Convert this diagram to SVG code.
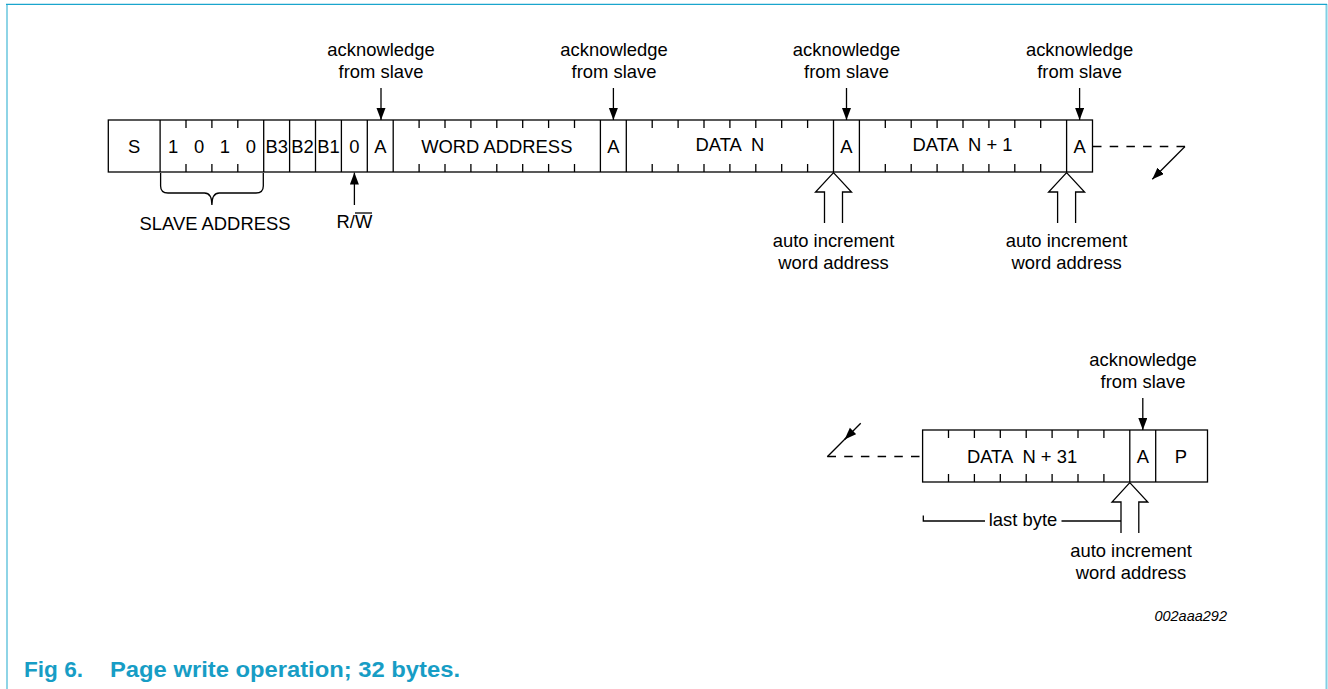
<svg xmlns="http://www.w3.org/2000/svg" width="1328" height="689" viewBox="0 0 1328 689">
<style>
text{font-family:"Liberation Sans",Arial,Helvetica,sans-serif;font-size:18.4px;fill:#000}
.c{text-anchor:middle}
.box{fill:#fff;stroke:#000;stroke-width:1.3}
.ln{fill:none;stroke:#000;stroke-width:1.3}
.dash{fill:none;stroke:#000;stroke-width:1.3;stroke-dasharray:8.5 8.2}
.hollow{fill:#fff;stroke:#000;stroke-width:1.3;stroke-linejoin:miter}
.cap{font-weight:bold;font-size:22.5px;fill:#179dc5}
.code{font-style:italic;font-size:14.5px;text-anchor:end}
</style>
<defs>
<marker id="ah" markerUnits="userSpaceOnUse" markerWidth="13" markerHeight="10" refX="12" refY="4.5" orient="auto">
<path d="M0,0 L12,4.5 L0,9 Z" fill="#000"/>
</marker>
</defs>

<g id="frame">
<line x1="7" y1="4" x2="7" y2="689" stroke="#82d0e4" stroke-width="1.8"/>
<line x1="1326.5" y1="4" x2="1326.5" y2="689" stroke="#82d0e4" stroke-width="2"/>
<line x1="6" y1="4.4" x2="1327" y2="4.4" stroke="#1aa5cd" stroke-width="1.4"/>
</g>

<g id="row1">
<rect class="box" x="108.3" y="120" width="984.2" height="52"/>
<g id="dividers1" class="ln">
<path d="M160.1,120V172 M263.7,120V172 M289.6,120V172 M315.5,120V172 M341.4,120V172 M367.3,120V172 M393.2,120V172 M600.4,120V172 M626.3,120V172 M833.5,120V172 M859.4,120V172 M1066.6,120V172"/>
</g>
<g id="ticks1" class="ln">
<path d="M186,120v8 M211.9,120v8 M237.8,120v8 M186,172v-8 M211.9,172v-8 M237.8,172v-8"/>
<path d="M419.1,120v8 M445,120v8 M470.9,120v8 M496.8,120v8 M522.7,120v8 M548.6,120v8 M574.5,120v8 M419.1,172v-8 M445,172v-8 M470.9,172v-8 M496.8,172v-8 M522.7,172v-8 M548.6,172v-8 M574.5,172v-8"/>
<path d="M652.2,120v8 M678.1,120v8 M704,120v8 M729.9,120v8 M755.8,120v8 M781.7,120v8 M807.6,120v8 M652.2,172v-8 M678.1,172v-8 M704,172v-8 M729.9,172v-8 M755.8,172v-8 M781.7,172v-8 M807.6,172v-8"/>
<path d="M885.3,120v8 M911.2,120v8 M937.1,120v8 M963,120v8 M988.9,120v8 M1014.8,120v8 M1040.7,120v8 M885.3,172v-8 M911.2,172v-8 M937.1,172v-8 M963,172v-8 M988.9,172v-8 M1014.8,172v-8 M1040.7,172v-8"/>
</g>
</g>

<g id="cell-S"><text class="c" x="134.2" y="152.5">S</text></g>
<g id="cell-1010">
<text class="c" x="173" y="152.5">1</text>
<text class="c" x="199" y="152.5">0</text>
<text class="c" x="224.9" y="152.5">1</text>
<text class="c" x="250.8" y="152.5">0</text>
</g>
<g id="cell-B3"><text class="c" x="276.7" y="152.5">B3</text></g>
<g id="cell-B2"><text class="c" x="302.6" y="152.5">B2</text></g>
<g id="cell-B1"><text class="c" x="328.5" y="152.5">B1</text></g>
<g id="cell-RW"><text class="c" x="354.4" y="152.5">0</text></g>
<g id="cell-A1"><text class="c" x="380.3" y="152.5">A</text></g>
<g id="cell-word"><text class="c" x="496.8" y="152.5">WORD ADDRESS</text></g>
<g id="cell-A2"><text class="c" x="613.4" y="152.5">A</text></g>
<g id="cell-dataN"><text class="c" x="729.9" y="150.7" xml:space="preserve">DATA  N</text></g>
<g id="cell-A3"><text class="c" x="846.5" y="152.5">A</text></g>
<g id="cell-dataN1"><text class="c" x="962.5" y="150.7" xml:space="preserve">DATA  N + 1</text></g>
<g id="cell-A4"><text class="c" x="1079.6" y="152.5">A</text></g>

<g id="slave-address">
<path class="ln" d="M160.6,173 V186 Q160.6,193 168,193 H204.5 Q211.9,193 211.9,205 Q211.9,193 219.3,193 H256 Q263.3,193 263.3,186 V173"/>
<text class="c" x="215" y="230">SLAVE ADDRESS</text>
</g>

<g id="rw-label">
<text class="c" x="354.4" y="228">R/W</text>
<line class="ln" x1="355" y1="213" x2="372" y2="213" stroke-width="1.2"/>
</g>

<g id="ack1"><text class="c" x="381" y="55.5">acknowledge</text><text class="c" x="381" y="77.5">from slave</text></g>
<g id="ack2"><text class="c" x="614" y="55.5">acknowledge</text><text class="c" x="614" y="77.5">from slave</text></g>
<g id="ack3"><text class="c" x="846.5" y="55.5">acknowledge</text><text class="c" x="846.5" y="77.5">from slave</text></g>
<g id="ack4"><text class="c" x="1079.6" y="55.5">acknowledge</text><text class="c" x="1079.6" y="77.5">from slave</text></g>

<g id="auto1"><text class="c" x="833.5" y="246.5">auto increment</text><text class="c" x="833.5" y="268.5">word address</text></g>
<g id="auto2"><text class="c" x="1066.6" y="246.5">auto increment</text><text class="c" x="1066.6" y="268.5">word address</text></g>

<g id="row2">
<rect class="box" x="922.6" y="430" width="284.9" height="52"/>
<path class="ln" d="M1129.8,430V482 M1155.7,430V482"/>
<path class="ln" d="M948.5,430v8 M974.4,430v8 M1000.3,430v8 M1026.2,430v8 M1052.1,430v8 M1078,430v8 M1103.9,430v8 M948.5,482v-8 M974.4,482v-8 M1000.3,482v-8 M1026.2,482v-8 M1052.1,482v-8 M1078,482v-8 M1103.9,482v-8"/>
</g>
<g id="cell-dataN31"><text class="c" x="1022" y="462.7" xml:space="preserve">DATA  N + 31</text></g>
<g id="cell-A5"><text class="c" x="1142.8" y="462.7">A</text></g>
<g id="cell-P"><text class="c" x="1181" y="462.7">P</text></g>

<g id="ack5"><text class="c" x="1143" y="366">acknowledge</text><text class="c" x="1143" y="388">from slave</text></g>
<g id="auto3"><text class="c" x="1131" y="556.5">auto increment</text><text class="c" x="1131" y="579">word address</text></g>

<g id="last-byte">
<path class="ln" d="M923.3,515.5 V521 H985"/>
<text class="c" x="1023" y="526">last byte</text>
<path class="ln" d="M1061.5,521 H1121"/>
</g>

<g id="connectors">
<line class="ln" x1="381" y1="88" x2="381" y2="120" marker-end="url(#ah)"/>
<line class="ln" x1="613.4" y1="88" x2="613.4" y2="120" marker-end="url(#ah)"/>
<line class="ln" x1="846.5" y1="88" x2="846.5" y2="120" marker-end="url(#ah)"/>
<line class="ln" x1="1079.6" y1="88" x2="1079.6" y2="120" marker-end="url(#ah)"/>
<line class="ln" x1="1142.8" y1="398" x2="1142.8" y2="430" marker-end="url(#ah)"/>
<line class="ln" x1="354.4" y1="205" x2="354.4" y2="172.6" marker-end="url(#ah)"/>
<path class="hollow" d="M824.5,223 V192 H815.5 L833.5,172.6 L851.5,192 H842.5 V223"/>
<path class="hollow" d="M1057.6,223 V192 H1048.6 L1066.6,172.6 L1084.6,192 H1075.6 V223"/>
<path class="hollow" d="M1121,533 V502 H1112 L1129.8,482.6 L1147.8,502 H1138.8 V533"/>
<line class="dash" x1="1093" y1="146.5" x2="1185" y2="146.5"/>
<line class="ln" x1="1185" y1="146.5" x2="1152.3" y2="179.3" marker-end="url(#ah)"/>
<line class="dash" x1="827.5" y1="456.5" x2="922" y2="456.5"/>
<line class="ln" x1="860.7" y1="423.3" x2="844.6" y2="439.5" marker-end="url(#ah)"/>
<line class="ln" x1="846" y1="438" x2="827.3" y2="456.7"/>
</g>

<g id="caption">
<text class="cap" x="24" y="677" textLength="59" lengthAdjust="spacingAndGlyphs">Fig 6.</text>
<text class="cap" x="110" y="677" textLength="350" lengthAdjust="spacingAndGlyphs">Page write operation; 32 bytes.</text>
<text class="code" x="1227" y="621">002aaa292</text>
</g>
</svg>
